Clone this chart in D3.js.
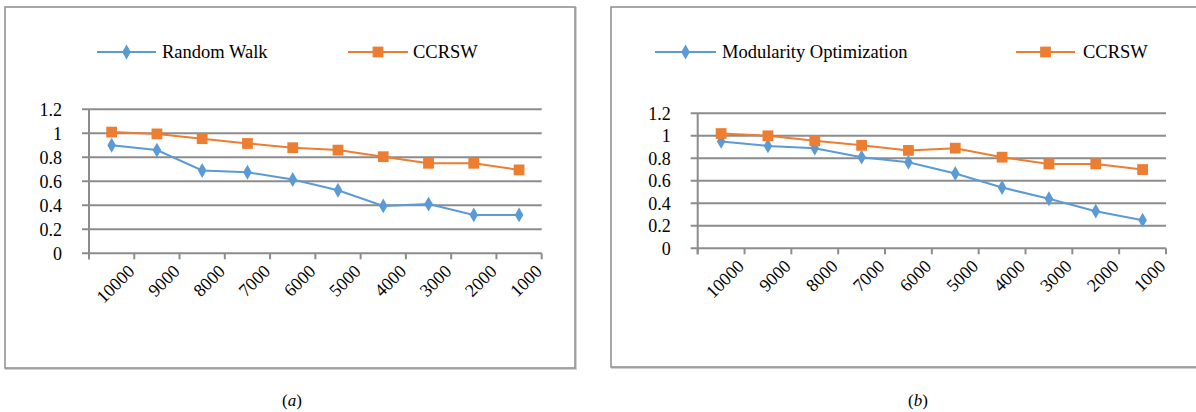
<!DOCTYPE html>
<html>
<head>
<meta charset="utf-8">
<script src="https://cdn.jsdelivr.net/npm/d3@7"></script>
<style>
body { margin: 0; background: #fff; }
svg text { font-family: "Liberation Serif", "Tinos", "Times New Roman", "DejaVu Serif", serif !important; fill: #000; }
</style>
</head>
<body>
<div id="chart"></div>
<script>
// data
var categories = ["10000", "9000", "8000", "7000", "6000", "5000", "4000", "3000", "2000", "1000"];
var yTicks = [0, 0.2, 0.4, 0.6, 0.8, 1, 1.2];

var randomWalk = [0.90, 0.86, 0.69, 0.675, 0.615, 0.525, 0.395, 0.41, 0.32, 0.32];
var ccrswA     = [1.01, 0.995, 0.955, 0.915, 0.88, 0.86, 0.805, 0.75, 0.75, 0.695];

var modularity = [0.95, 0.91, 0.89, 0.81, 0.765, 0.665, 0.54, 0.44, 0.33, 0.25];
var ccrswB     = [1.02, 1.0, 0.955, 0.915, 0.87, 0.89, 0.81, 0.75, 0.75, 0.70];

var namesA = ["Random Walk", "CCRSW"];
var namesB = ["Modularity Optimization", "CCRSW"];
var captions = ["a", "b"];

var blue = "#5b9bd5", orange = "#ed7d31", grid = "#8c8c8c";
var serif = '"Liberation Serif", "Tinos", "Times New Roman", "DejaVu Serif", serif';

var svg = d3.select("#chart")
    .append("svg")
    .attr("width", 1196)
    .attr("height", 412)
    .attr("font-family", serif);

var panels = [
    {frame: [5, 7, 570, 361], plot: [89, 541.7, 109.3, 253.3], names: namesA,
     series: [randomWalk, ccrswA], legend: [[97, 156, 162], [348, 408, 413]], cap: 0, capX: 292},
    {frame: [611, 7, 600, 360], plot: [697.7, 1166, 113.3, 248.3], names: namesB,
     series: [modularity, ccrswB], legend: [[655, 716, 722], [1016, 1075, 1083]], cap: 1, capX: 918}
];

panels.forEach(drawPanel);

function drawPanel(p) {
    var g = svg.append("g");

    // frame with a faint shadow line
    g.append("rect")
        .attr("x", p.frame[0] + 1).attr("y", p.frame[1] + 1)
        .attr("width", p.frame[2]).attr("height", p.frame[3])
        .attr("fill", "none").attr("stroke", "#d0d0d0").attr("stroke-width", 2);
    g.append("rect")
        .attr("x", p.frame[0]).attr("y", p.frame[1])
        .attr("width", p.frame[2]).attr("height", p.frame[3])
        .attr("fill", "#fff").attr("stroke", "#939393").attr("stroke-width", 1.6);

    var x = d3.scaleBand()
        .domain(categories)
        .range([p.plot[0], p.plot[1]])
        .padding(0);

    var y = d3.scaleLinear()
        .domain([0, 1.2])
        .range([p.plot[3], p.plot[2]]);

    // horizontal gridlines (extend a little left of the axis like tick marks)
    g.selectAll("line.grid")
        .data(yTicks)
        .enter().append("line")
        .attr("class", "grid")
        .attr("x1", p.plot[0] - 7).attr("x2", p.plot[1])
        .attr("y1", function(d) { return y(d); })
        .attr("y2", function(d) { return y(d); })
        .attr("stroke", grid).attr("stroke-width", 2);

    // vertical axis line
    g.append("line")
        .attr("x1", p.plot[0]).attr("x2", p.plot[0])
        .attr("y1", y(1.2)).attr("y2", y(0) + 6)
        .attr("stroke", grid).attr("stroke-width", 2);

    // y tick labels
    var yAxis = d3.axisLeft(y)
        .tickValues(yTicks)
        .tickSize(0)
        .tickPadding(27)
        .tickFormat(function(d) { return d3.format("")(+d.toFixed(1)); });
    var yg = g.append("g")
        .attr("transform", "translate(" + p.plot[0] + ",0)")
        .call(yAxis)
        .attr("font-family", serif);
    yg.select(".domain").remove();
    yg.selectAll("text").style("font-size", "18px").attr("dy", "0.33em");

    // tick marks on the category axis at band boundaries
    var bounds = categories.map(function(c) { return x(c); }).concat([x.range()[1]]);
    g.selectAll("line.xtick")
        .data(bounds)
        .enter().append("line")
        .attr("class", "xtick")
        .attr("x1", function(d) { return d; }).attr("x2", function(d) { return d; })
        .attr("y1", y(0)).attr("y2", y(0) + 6)
        .attr("stroke", grid).attr("stroke-width", 2);

    // rotated category labels
    g.selectAll("text.xlab")
        .data(categories)
        .enter().append("text")
        .attr("class", "xlab")
        .attr("text-anchor", "end")
        .style("font-size", "18px")
        .attr("transform", function(d) {
            var cx = x(d) + x.bandwidth() / 2 + 24;
            return "translate(" + cx + "," + (y(0) + 19) + ")rotate(-45)";
        })
        .text(function(d) { return d; });

    var line = d3.line()
        .x(function(d, i) { return x(categories[i]) + x.bandwidth() / 2; })
        .y(function(d) { return y(d); });

    var colors = [blue, orange];
    var symbols = [d3.symbolDiamond, d3.symbolSquare];
    var sizes = [64, 116];

    p.series.forEach(function(s, k) {
        g.append("path")
            .datum(s)
            .attr("d", line)
            .attr("fill", "none")
            .attr("stroke", colors[k])
            .attr("stroke-width", 2);
        g.selectAll("path.mk" + k)
            .data(s)
            .enter().append("path")
            .attr("class", "mk" + k)
            .attr("d", d3.symbol().type(symbols[k]).size(sizes[k]))
            .attr("transform", function(d, i) {
                return "translate(" + (x(categories[i]) + x.bandwidth() / 2) + "," + y(d) + ")";
            })
            .attr("fill", colors[k]);
    });

    // legend
    p.legend.forEach(function(l, k) {
        var ly = 52;
        g.append("line")
            .attr("x1", l[0]).attr("x2", l[1])
            .attr("y1", ly).attr("y2", ly)
            .attr("stroke", colors[k]).attr("stroke-width", 2);
        g.append("path")
            .attr("d", d3.symbol().type(symbols[k]).size(sizes[k]))
            .attr("transform", "translate(" + ((l[0] + l[1]) / 2) + "," + ly + ")")
            .attr("fill", colors[k]);
        g.append("text")
            .attr("x", l[2]).attr("y", ly)
            .attr("dy", "0.33em")
            .style("font-size", "18.5px")
            .text(p.names[k]);
    });

    // caption
    var cap = g.append("text")
        .attr("x", p.capX).attr("y", 406)
        .attr("text-anchor", "middle")
        .style("font-size", "17px");
    cap.append("tspan").text("(");
    cap.append("tspan").style("font-style", "italic").text(captions[p.cap]);
    cap.append("tspan").text(")");
}
</script>
</body>
</html>
